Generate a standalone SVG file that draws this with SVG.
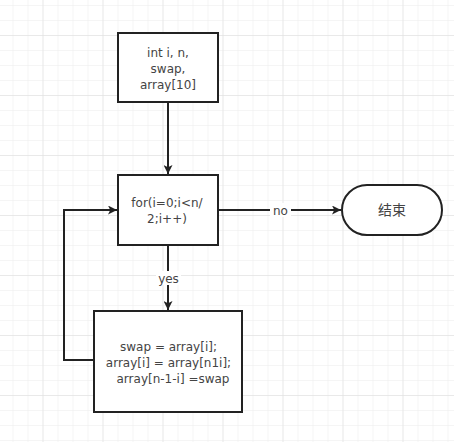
<svg xmlns="http://www.w3.org/2000/svg" width="454" height="442" viewBox="0 0 454 442">
<defs>
<pattern id="minor" x="12.5" y="5" width="15" height="15" patternUnits="userSpaceOnUse">
<path d="M0 0H15M0 0V15" fill="none" stroke="#ececec" stroke-width="1"/>
</pattern>
<pattern id="major" x="42.5" y="35" width="60" height="60" patternUnits="userSpaceOnUse">
<path d="M0 0H60M0 0V60" fill="none" stroke="#dedede" stroke-width="1"/>
</pattern>
<marker id="arr" viewBox="0 0 10 10" refX="10" refY="5" markerWidth="5" markerHeight="4.5" orient="auto" markerUnits="strokeWidth">
<path d="M0 0L10 5L0 10L2.5 5Z" fill="#222"/>
</marker>
<style>
.box{fill:#fff;stroke:#222;stroke-width:2}
.t{font-family:"DejaVu Sans","Noto Sans CJK SC",sans-serif;font-size:12px;fill:#444;text-anchor:middle}
.cjk{font-family:"Noto Sans CJK SC",sans-serif;font-size:14px}
.c{fill:none;stroke:#222;stroke-width:2}
.lbl{fill:#fff}
</style>
</defs>
<rect width="454" height="442" fill="#fff"/>
<rect width="454" height="442" fill="url(#minor)"/>
<rect width="454" height="442" fill="url(#major)"/>
<g id="connectors">
<path class="c" d="M168 102V174" marker-end="url(#arr)"/>
<path class="c" d="M218 210H341" marker-end="url(#arr)"/>
<path class="c" d="M168 245V310" marker-end="url(#arr)"/>
<path class="c" d="M94 360H64V210H117" marker-end="url(#arr)"/>
<rect class="lbl" x="270" y="203" width="21" height="14"/>
<text class="t" x="280.5" y="214.5">no</text>
<rect class="lbl" x="156" y="271" width="25" height="14"/>
<text class="t" x="168.5" y="282.5">yes</text>
</g>
<g id="decl">
<rect class="box" x="118" y="33" width="100" height="69"/>
<text class="t" x="168" y="57">int i, n,<tspan x="168" dy="16">swap,</tspan><tspan x="168" dy="16">array[10]</tspan></text>
</g>
<g id="loop">
<rect class="box" x="118" y="175" width="100" height="70"/>
<text class="t" x="167" y="207">for(i=0;i&lt;n/<tspan x="167" dy="16">2;i++)</tspan></text>
</g>
<g id="end">
<rect class="box" x="342" y="185" width="100" height="50" rx="25" ry="25"/>
<text class="t cjk" x="392" y="215">结束</text>
</g>
<g id="swap">
<rect class="box" x="94" y="311" width="148" height="101"/>
<text class="t" x="168.5" y="351">swap = array[i];<tspan x="168.5" dy="16">array[i] = array[n1i];</tspan><tspan x="173" dy="16">array[n-1-i] =swap</tspan></text>
</g>
</svg>
